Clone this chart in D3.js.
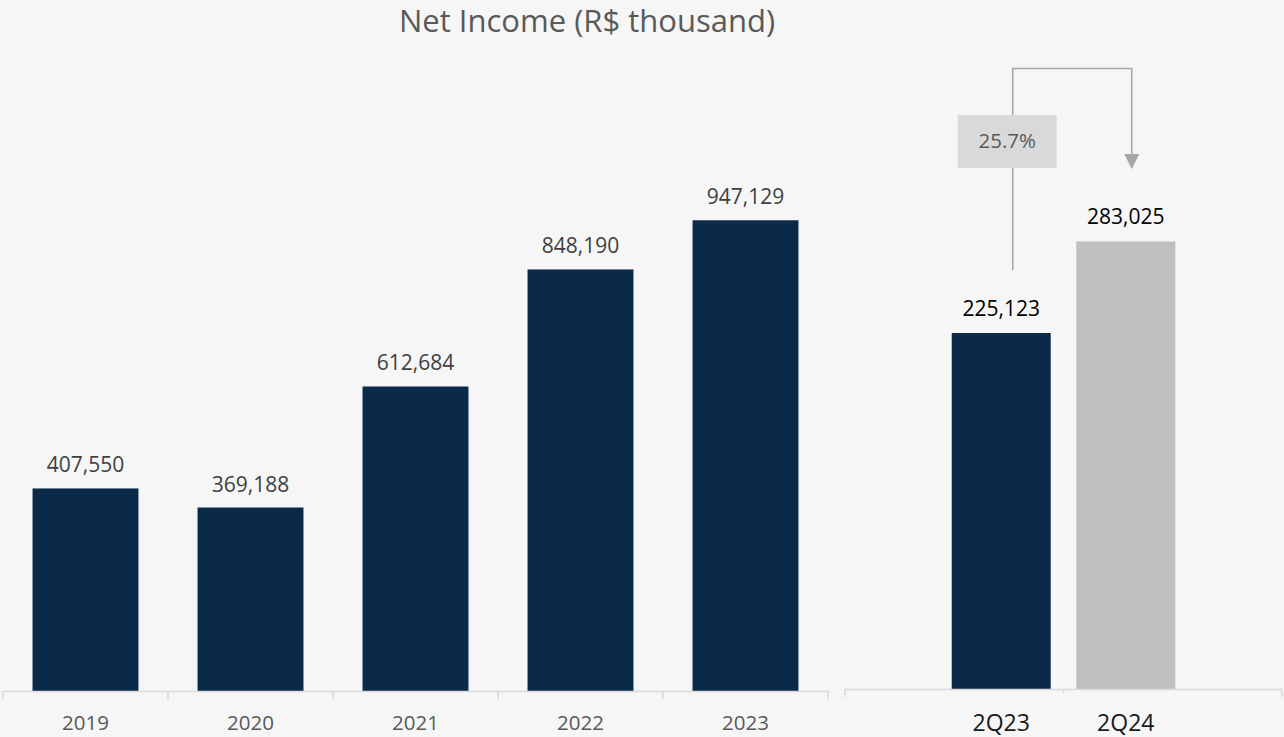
<!DOCTYPE html>
<html>
<head>
<meta charset="utf-8">
<script src="https://cdn.jsdelivr.net/npm/d3@7"></script>
<style>
  html, body { margin: 0; padding: 0; background: #f6f6f6; }
  svg { display: block; }
  text { font-family: "Open Sans", "Noto Sans", sans-serif; }
</style>
</head>
<body>
<svg id="chart" width="1284" height="737"></svg>
<script>
// Annual net income, R$ thousand
const years = ["2019", "2020", "2021", "2022", "2023"];
const yearValues = [407550, 369188, 612684, 848190, 947129];

// Quarterly comparison, R$ thousand
const quarters = ["2Q23", "2Q24"];
const quarterValues = [225123, 283025];

const title = "Net Income (R$ thousand)";

const W = 1284, H = 737;
const svg = d3.select("#chart");
const fmt = d3.format(",");

svg.append("rect").attr("width", W).attr("height", H).attr("fill", "#f6f6f6");

svg.append("text")
  .attr("x", 587).attr("y", 32)
  .attr("text-anchor", "middle")
  .attr("font-size", 31)
  .attr("fill", "#595959")
  .text(title);

const navy = "#0b2a4a";
const axisGrey = "#d9d9d9";

// ---- Annual panel ----
const base1 = 691;
const x1 = d3.scaleBand().domain(years).range([3, 828]).paddingInner(0.358).paddingOuter(0.179);
const y1 = d3.scaleLinear().domain([0, 1000000]).range([base1, base1 - 497]);

const g1 = svg.append("g");
g1.selectAll("rect.bar").data(years).join("rect")
  .attr("class", "bar")
  .attr("x", d => x1(d))
  .attr("width", x1.bandwidth())
  .attr("y", (d, i) => y1(yearValues[i]))
  .attr("height", (d, i) => base1 - y1(yearValues[i]))
  .attr("fill", navy);

g1.selectAll("text.val").data(years).join("text")
  .attr("class", "val")
  .attr("x", d => x1(d) + x1.bandwidth() / 2)
  .attr("y", (d, i) => y1(yearValues[i]) - 16)
  .attr("text-anchor", "middle")
  .attr("font-size", 21)
  .attr("fill", "#404040")
  .text((d, i) => fmt(yearValues[i]));

// axis line + category boundary ticks
const bounds1 = years.map(d => x1(d) - x1.step() * x1.paddingInner() / 2);
bounds1.push(x1.range()[1]);
g1.append("line")
  .attr("x1", x1.range()[0]).attr("x2", x1.range()[1])
  .attr("y1", base1 + 0.5).attr("y2", base1 + 0.5)
  .attr("stroke", axisGrey).attr("stroke-width", 1.5);
g1.selectAll("line.tk").data(bounds1).join("line")
  .attr("class", "tk")
  .attr("x1", d => d).attr("x2", d => d)
  .attr("y1", base1).attr("y2", base1 + 8)
  .attr("stroke", axisGrey).attr("stroke-width", 1.5);

const ax1 = g1.append("g")
  .attr("transform", `translate(0,${base1})`)
  .call(d3.axisBottom(x1).tickSize(0).tickPadding(0));
ax1.select(".domain").remove();
ax1.selectAll("text")
  .attr("dy", null).attr("y", 39)
  .attr("font-size", 20.5)
  .attr("font-family", "Open Sans, Noto Sans, sans-serif")
  .attr("fill", "#595959");

// ---- Quarterly panel ----
const base2 = 689;
const x2 = d3.scaleBand().domain(quarters).range([845, 1282]).paddingInner(0.205).paddingOuter(0.857);
const y2 = d3.scaleLinear().domain([0, 300000]).range([base2, base2 - 474.4]);
const qColors = [navy, "#bfbfbf"];

const g2 = svg.append("g");
g2.selectAll("rect.bar").data(quarters).join("rect")
  .attr("class", "bar")
  .attr("x", d => x2(d))
  .attr("width", x2.bandwidth())
  .attr("y", (d, i) => y2(quarterValues[i]))
  .attr("height", (d, i) => base2 - y2(quarterValues[i]))
  .attr("fill", (d, i) => qColors[i]);

g2.selectAll("text.val").data(quarters).join("text")
  .attr("class", "val")
  .attr("x", d => x2(d) + x2.bandwidth() / 2)
  .attr("y", (d, i) => y2(quarterValues[i]) - 17)
  .attr("text-anchor", "middle")
  .attr("font-size", 21)
  .attr("fill", "#000000")
  .text((d, i) => fmt(quarterValues[i]));

g2.append("line")
  .attr("x1", x2.range()[0]).attr("x2", x2.range()[1])
  .attr("y1", base2 + 0.5).attr("y2", base2 + 0.5)
  .attr("stroke", axisGrey).attr("stroke-width", 1.5);
x2.range().forEach(xv => {
  g2.append("line")
    .attr("x1", xv).attr("x2", xv)
    .attr("y1", base2).attr("y2", base2 + 8)
    .attr("stroke", axisGrey).attr("stroke-width", 1.5);
});
const midQ = (x2(quarters[0]) + x2.bandwidth() + x2(quarters[1])) / 2;
g2.append("line")
  .attr("x1", midQ).attr("x2", midQ)
  .attr("y1", base2 + 1).attr("y2", base2 + 4)
  .attr("stroke", axisGrey).attr("stroke-width", 1.5);

const ax2 = g2.append("g")
  .attr("transform", `translate(0,${base2})`)
  .call(d3.axisBottom(x2).tickSize(0).tickPadding(0));
ax2.select(".domain").remove();
ax2.selectAll("text")
  .attr("dy", null).attr("y", 42)
  .attr("font-size", 23)
  .attr("font-family", "Open Sans, Noto Sans, sans-serif")
  .attr("fill", "#1a1a1a");

// ---- Growth connector between quarters ----
const growth = quarterValues[1] / quarterValues[0] - 1;
const lineGrey = "#a6a6a6";
const cx0 = x2(quarters[0]) + x2.bandwidth() / 2 + 11.5;
const cx1 = x2(quarters[1]) + x2.bandwidth() / 2 + 6;
const topY = 68;
const startY = y2(quarterValues[0]) - 63;
const arrowTip = 169;

g2.append("path")
  .attr("d", `M${cx0},${startY} V${topY + 0.5} H${cx1} V${arrowTip - 14}`)
  .attr("fill", "none")
  .attr("stroke", lineGrey)
  .attr("stroke-width", 1.5);
g2.append("path")
  .attr("d", `M${cx1 - 7.5},${arrowTip - 15} L${cx1 + 7.5},${arrowTip - 15} L${cx1},${arrowTip} Z`)
  .attr("fill", lineGrey);

const boxW = 99, boxH = 53;
g2.append("rect")
  .attr("x", cx0 - 55).attr("y", 115)
  .attr("width", boxW).attr("height", boxH)
  .attr("fill", "#d9d9d9");
g2.append("text")
  .attr("x", cx0 - 55 + boxW / 2).attr("y", 148)
  .attr("text-anchor", "middle")
  .attr("font-size", 20.5)
  .attr("fill", "#595959")
  .text(d3.format(".1%")(growth));
</script>
</body>
</html>
